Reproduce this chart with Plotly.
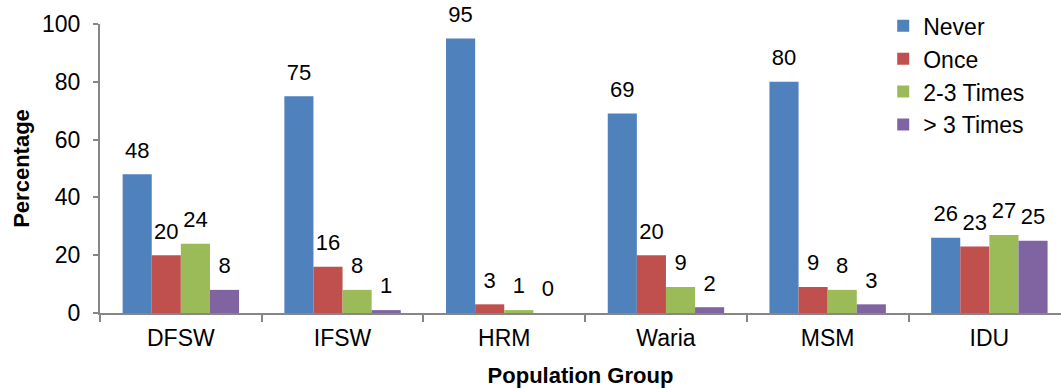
import plotly.graph_objects as go

groups = ["DFSW", "IFSW", "HRM", "Waria", "MSM", "IDU"]
never = [48, 75, 95, 69, 80, 26]
once = [20, 16, 3, 20, 9, 23]
two_three = [24, 8, 1, 9, 8, 27]
more_three = [8, 1, 0, 2, 3, 25]

series = [
    ("Never", never, "#4F81BD"),
    ("Once", once, "#C0504D"),
    ("2-3 Times", two_three, "#9BBB59"),
    ("> 3 Times", more_three, "#8064A2"),
]

FONT = "Liberation Sans, Arial, sans-serif"
LABEL_GAP = 3  # visual gap (axis units) between bar top and its label

fig = go.Figure()
for i, (name, vals, col) in enumerate(series):
    fig.add_trace(go.Bar(
        x=groups, y=vals, name=name, offsetgroup=str(i),
        marker=dict(color=col, line=dict(width=0)),
        hoverinfo="skip",
    ))
for i, (name, vals, col) in enumerate(series):
    fig.add_trace(go.Bar(
        x=groups, y=[LABEL_GAP] * len(vals), base=vals, offsetgroup=str(i),
        marker=dict(color="rgba(0,0,0,0)", line=dict(width=0)),
        text=[str(v) for v in vals],
        textposition="outside",
        textfont=dict(family=FONT, size=22, color="#000000"),
        constraintext="none",
        cliponaxis=False,
        showlegend=False,
        hoverinfo="skip",
    ))

fig.update_layout(
    width=1061, height=388,
    margin=dict(l=100, r=0, t=24, b=75, autoexpand=False),
    barmode="group",
    bargap=0.28,
    bargroupgap=0,
    paper_bgcolor="white",
    plot_bgcolor="white",
    font=dict(family=FONT, size=22, color="#000000"),
    legend=dict(
        x=0.815, y=1.068,
        xanchor="left", yanchor="top",
        font=dict(family=FONT, size=23, color="#000000"),
        bgcolor="rgba(255,255,255,0)",
        itemwidth=30, tracegroupgap=0,
    ),
    xaxis=dict(
        range=[-0.5, 5.443], automargin=False,
        showline=True, linecolor="#868686", linewidth=2,
        ticks="outside", tickson="boundaries", ticklen=7, tickcolor="#868686", tickwidth=2,
        ticklabelstandoff=3,
        tickfont=dict(family=FONT, size=23, color="#000000"),
        title=dict(text="<b>Population Group</b>", font=dict(family=FONT, size=22), standoff=20),
        showgrid=False, zeroline=False,
    ),
    yaxis=dict(
        range=[0, 100], tickvals=[0, 20, 40, 60, 80, 100], automargin=False,
        showline=True, linecolor="#868686", linewidth=2,
        ticks="outside", ticklen=5, tickcolor="#868686", tickwidth=2,
        ticklabelstandoff=8,
        tickfont=dict(family=FONT, size=23, color="#000000"),
        title=dict(text="<b>Percentage</b>", font=dict(family=FONT, size=22), standoff=6),
        showgrid=False, zeroline=False,
    ),
)

fig.write_html(
    "out.html",
    config={"displayModeBar": False},
    post_script="document.body.style.margin='0';",
)
